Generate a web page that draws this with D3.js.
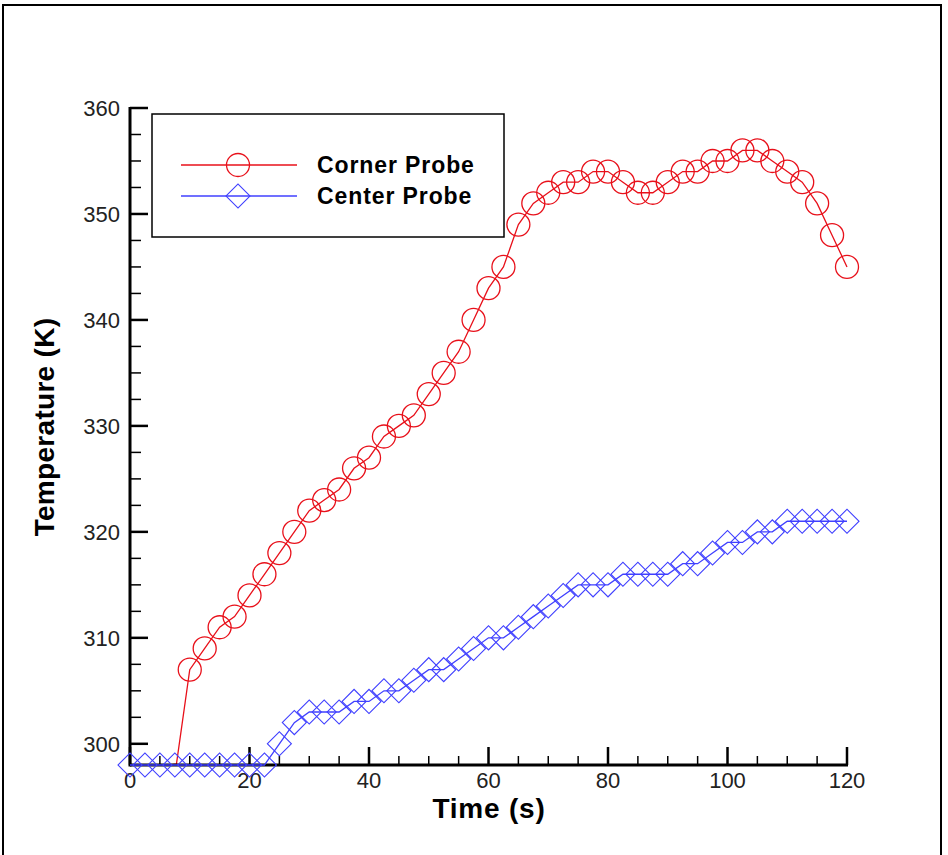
<!DOCTYPE html>
<html><head><meta charset="utf-8">
<script src="https://cdn.jsdelivr.net/npm/d3@7/dist/d3.min.js"></script>
<style>body{margin:0;background:#fff}</style>
</head><body><svg id="c" width="948" height="855"></svg>
<script>
const time = d3.range(0, 120.01, 2.5);
const cornerProbe = [null,null,null,297,307,309,311,312,314,316,318,320,322,323,324,326,327,329,330,331,333,335,337,340,343,345,349,351,352,353,353,354,354,353,352,352,353,354,354,355,355,356,356,355,354,353,351,348,345];
const centerProbe = [298,298,298,298,298,298,298,298,298,298,300,302,303,303,303,304,304,305,305,306,307,307,308,309,310,310,311,312,313,314,315,315,315,316,316,316,316,317,317,318,319,319,320,320,321,321,321,321,321];
const seriesNames = ["Corner Probe","Center Probe"];
const xTicks = [0,20,40,60,80,100,120];
const yTicks = [300,310,320,330,340,350,360];

const svg = d3.select("#c");
const x = d3.scaleLinear().domain([0,120]).range([130,847]);
const y = d3.scaleLinear().domain([298,360]).range([765,108]);
const RED="#e8101a", BLUE="#4040ff";

svg.append("rect").attr("x",3).attr("y",5).attr("width",938).attr("height",860)
  .attr("fill","none").attr("stroke","#000").attr("stroke-width",2);

svg.append("defs").append("clipPath").attr("id","clip")
  .append("rect").attr("x",0).attr("y",0).attr("width",948).attr("height",765);

const sq = d3.symbol().type(d3.symbolSquare).size(17*17);

function drawSeries(vals, color, kind){
  const plot = svg.append("g");
  if(kind==="circle") plot.attr("clip-path","url(#clip)");
  const pts = time.map((t,i)=>({t, v: vals[i]})).filter(d=>d.v!=null);
  plot.append("path").datum(pts)
    .attr("d", d3.line().x(d=>x(d.t)).y(d=>y(d.v)))
    .attr("fill","none").attr("stroke",color).attr("stroke-width",1.3);
  const g = plot.append("g");
  if(kind==="circle"){
    g.selectAll("circle").data(pts).join("circle")
      .attr("cx",d=>x(d.t)).attr("cy",d=>y(d.v)).attr("r",11.5)
      .attr("fill","none").attr("stroke",color).attr("stroke-width",1.3);
  } else {
    g.selectAll("path").data(pts).join("path")
      .attr("d",sq).attr("transform",d=>`translate(${x(d.t)},${y(d.v)}) rotate(45)`)
      .attr("fill","none").attr("stroke",color).attr("stroke-width",1.1);
  }
}
drawSeries(cornerProbe, RED, "circle");

// Axes
const xMinor = d3.range(0,120.01,5);
const yMinor = d3.range(300,360.01,2.5);
const ax = svg.append("g");
ax.selectAll(".xm").data(xMinor).join("line")
  .attr("x1",d=>x(d)).attr("x2",d=>x(d)).attr("y1",y(298)).attr("y2",d=>y(298)-(d%20===0?18:9))
  .attr("stroke","#000").attr("stroke-width",d=>d%20===0?2.5:1.5);
ax.selectAll(".ym").data(yMinor).join("line")
  .attr("y1",d=>y(d)).attr("y2",d=>y(d)).attr("x1",x(0)).attr("x2",d=>x(0)+(d%10===0?18:11))
  .attr("stroke","#000").attr("stroke-width",d=>d%10===0?2.5:1.5);
ax.append("line").attr("x1",x(0)).attr("x2",x(120)+1).attr("y1",y(298)).attr("y2",y(298))
  .attr("stroke","#000").attr("stroke-width",3);
ax.append("line").attr("x1",x(0)).attr("x2",x(0)).attr("y1",y(298)+1.5).attr("y2",y(360)-1)
  .attr("stroke","#000").attr("stroke-width",3);

drawSeries(centerProbe, BLUE, "diamond");

const tickFont = "'Liberation Sans Narrow','Liberation Sans',Arial,sans-serif";
ax.selectAll(".xl").data(xTicks).join("text")
  .attr("x",d=>x(d)).attr("y",788).attr("text-anchor","middle")
  .attr("font-family",tickFont).attr("font-size",22).attr("fill","#222").text(d=>d);
ax.selectAll(".yl").data(yTicks).join("text")
  .attr("x",120).attr("y",d=>y(d)+8).attr("text-anchor","end")
  .attr("font-family",tickFont).attr("font-size",22).attr("fill","#222").text(d=>d);

const titleFont = "'Liberation Sans',Arial,sans-serif";
svg.append("text").attr("x",489).attr("y",818).attr("text-anchor","middle")
  .attr("font-family",titleFont).attr("font-weight","bold").attr("font-size",28)
  .attr("letter-spacing",0.8).text("Time (s)");
svg.append("text").attr("transform","translate(54,427) rotate(-90)").attr("text-anchor","middle")
  .attr("font-family",titleFont).attr("font-weight","bold").attr("font-size",28)
  .attr("letter-spacing",0.3).text("Temperature (K)");

// Legend
const lg = svg.append("g");
lg.append("rect").attr("x",152).attr("y",114).attr("width",352).attr("height",123)
  .attr("fill","#fff").attr("stroke","#000").attr("stroke-width",1.5);
const legY = [165,196], legC=[RED,BLUE];
seriesNames.forEach((n,i)=>{
  lg.append("line").attr("x1",181).attr("x2",297).attr("y1",legY[i]).attr("y2",legY[i])
    .attr("stroke",legC[i]).attr("stroke-width",1.3);
  if(i===0) lg.append("circle").attr("cx",238).attr("cy",legY[i]).attr("r",11.5)
    .attr("fill","none").attr("stroke",legC[i]).attr("stroke-width",1.3);
  else lg.append("path").attr("d",sq).attr("transform",`translate(238,${legY[i]}) rotate(45)`)
    .attr("fill","none").attr("stroke",legC[i]).attr("stroke-width",1.1);
  lg.append("text").attr("x",317).attr("y",legY[i]+8).attr("font-family",titleFont)
    .attr("font-weight","bold").attr("font-size",23).attr("letter-spacing",0.9).text(n);
});
</script></body></html>
